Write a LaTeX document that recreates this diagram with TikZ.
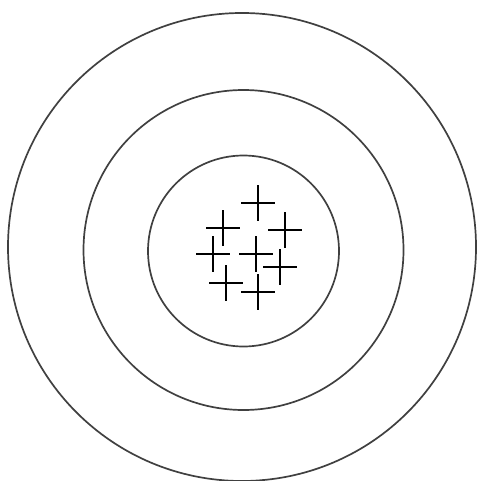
\documentclass[tikz,border=0pt]{standalone}
\begin{document}
\begin{tikzpicture}[x=1pt,y=-1pt,
  ring/.style={draw=black!75,line width=1.7pt},
  cross/.style={draw=black,line width=1.4pt}]
\useasboundingbox (0,0) rectangle (477,481);
\draw[ring] (242,247) circle[radius=234];
\draw[ring] (243.5,250) circle[radius=160];
\draw[ring] (243.5,251) circle[radius=95.5];
\foreach \x/\y in {258/203,223/228,285/230,213/254,256/254,280/267,226/283,258/292}{
  \draw[cross] (\x-17,\y) -- (\x+17,\y) (\x,\y-18) -- (\x,\y+18);
}
\end{tikzpicture}
\end{document}
